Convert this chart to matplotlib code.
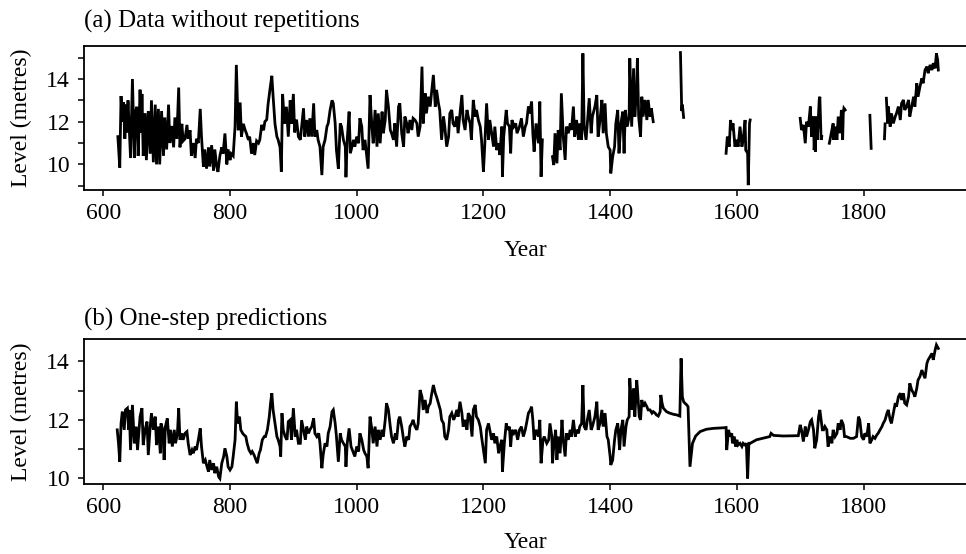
import matplotlib
matplotlib.use("Agg")
from matplotlib import pyplot as plt
from matplotlib.ticker import MultipleLocator

plt.rcParams['font.family'] = ['Liberation Serif', 'DejaVu Serif']

# (year, level in metres), panel (a): pieces with no repeated values
a_622_1293 = [
    (623, 11.3), (626, 9.85), (628, 13.2), (630, 12.0), (632, 12.9), (634, 11.2), (636, 12.8), (637, 11.5),
    (639, 13.0), (641, 11.6), (643, 10.3), (646, 14.0), (649, 10.3), (651, 12.5), (653, 12.7), (655, 10.4),
    (658, 13.5), (660, 11.5), (661, 13.3), (663, 10.4), (666, 12.4), (668, 10.2), (671, 12.5), (674, 10.5),
    (676, 13.0), (679, 10.1), (682, 12.8), (684, 10.0), (687, 12.6), (689, 10.0), (692, 12.5), (695, 10.4),
    (697, 12.2), (700, 10.7), (703, 12.8), (705, 11.0), (708, 11.8), (711, 10.8), (713, 12.2), (716, 11.2),
    (719, 13.6), (721, 10.8), (724, 11.9), (726, 11.1), (729, 11.2), (732, 11.85), (734, 11.2), (737, 11.6),
    (739, 10.4), (742, 11.0), (745, 10.3), (747, 11.2), (750, 11.0), (753, 12.6), (755, 11.3), (758, 9.9),
    (760, 10.7), (763, 9.8), (766, 10.8), (768, 9.9), (771, 10.9), (774, 9.7), (776, 10.7), (779, 9.9),
    (781, 9.65), (784, 10.4), (787, 10.8), (789, 10.5), (792, 11.45), (795, 10.0), (797, 10.7), (800, 10.2),
    (802, 10.5), (805, 10.4), (808, 11.8), (810, 14.66), (813, 11.6), (816, 12.9), (818, 11.3), (821, 11.9),
    (824, 11.6), (826, 11.45), (829, 11.15), (831, 11.3), (834, 10.5), (837, 11.0), (839, 10.44), (842, 11.1),
    (845, 11.0), (847, 11.15), (850, 11.85), (853, 11.6), (855, 12.0), (858, 12.1), (860, 12.8), (863, 13.5),
    (866, 14.15), (868, 13.2), (871, 11.9), (874, 11.3), (876, 11.15), (879, 10.8), (881, 9.66), (883, 13.3),
    (886, 11.9), (889, 12.7), (892, 11.3), (895, 13.0), (897, 11.9), (900, 13.3), (902, 11.5), (905, 12.1),
    (908, 11.3), (911, 11.15), (916, 12.63), (918, 11.3), (921, 12.08), (924, 11.3), (926, 12.16), (929, 11.3),
    (932, 12.86), (934, 11.3), (937, 11.61), (939, 11.15), (942, 10.83), (945, 9.5), (947, 10.83), (950, 11.15),
    (953, 11.77), (955, 11.92), (958, 12.55), (961, 13.0), (963, 12.86), (966, 11.92), (968, 10.67), (971, 9.8),
    (974, 11.92), (976, 11.77), (979, 11.15), (982, 10.83), (983, 9.4), (985, 11.15), (988, 12.47), (990, 10.52),
    (995, 11.15), (997, 10.83), (1000, 11.3), (1003, 10.99), (1005, 12.16), (1008, 11.77), (1010, 10.67),
    (1013, 11.15), (1016, 10.36), (1018, 9.8), (1021, 13.25), (1024, 11.77), (1026, 10.99), (1029, 12.55),
    (1032, 10.83), (1034, 12.39), (1037, 10.99), (1040, 12.47), (1042, 11.46), (1045, 12.08), (1047, 13.49),
    (1050, 12.71), (1053, 11.61), (1055, 11.46), (1058, 11.15), (1060, 11.92), (1063, 10.83), (1066, 12.71),
    (1068, 12.86), (1071, 11.46), (1074, 10.83), (1076, 12.24), (1079, 11.92), (1081, 11.46), (1084, 12.08),
    (1087, 11.61), (1089, 12.16), (1092, 12.08), (1095, 11.92), (1097, 11.3), (1100, 11.77), (1103, 14.58),
    (1105, 11.92), (1108, 13.33), (1110, 12.39), (1113, 13.17), (1116, 12.71), (1118, 13.33), (1121, 14.19),
    (1124, 12.71), (1126, 13.49), (1129, 12.86), (1131, 12.55), (1134, 11.15), (1137, 12.24), (1139, 11.77),
    (1142, 10.83), (1145, 11.3), (1147, 12.39), (1150, 12.55), (1152, 11.92), (1155, 11.77), (1158, 12.24),
    (1160, 11.46), (1163, 12.39), (1166, 13.25), (1168, 12.08), (1171, 11.61), (1174, 12.55), (1176, 12.24),
    (1179, 11.92), (1181, 11.15), (1184, 13.02), (1187, 12.24), (1189, 12.55), (1192, 12.08), (1195, 11.77),
    (1197, 11.15), (1200, 9.66), (1202, 10.83), (1205, 12.86), (1208, 11.15), (1210, 12.08), (1213, 11.46),
    (1216, 10.83), (1218, 11.77), (1221, 10.67), (1224, 10.99), (1226, 10.44), (1229, 11.77), (1230, 9.42),
    (1232, 11.3), (1236, 12.55), (1238, 11.92), (1241, 11.77), (1243, 10.52), (1245, 12.08), (1248, 11.77),
    (1251, 11.92), (1253, 11.46), (1257, 11.77), (1260, 12.16), (1263, 11.3), (1266, 11.77), (1268, 11.92),
    (1271, 12.71), (1273, 12.39), (1276, 12.94), (1278, 11.46), (1280, 10.6), (1283, 11.92), (1287, 10.99),
    (1289, 12.94), (1291, 9.42), (1293, 11.15),
]
a_1309_1468 = [
    (1309, 10.36), (1311, 9.97), (1313, 11.46), (1316, 10.05), (1318, 11.61), (1321, 10.67), (1323, 13.33),
    (1326, 11.3), (1329, 10.21), (1331, 11.77), (1334, 11.46), (1337, 11.92), (1339, 11.61), (1342, 12.71),
    (1344, 11.3), (1347, 12.08), (1350, 11.15), (1352, 11.92), (1355, 11.15), (1357, 15.2), (1359, 11.77),
    (1362, 11.15), (1364, 11.92), (1367, 13.1), (1370, 11.46), (1372, 12.24), (1376, 12.71), (1379, 13.25),
    (1381, 11.3), (1384, 12.08), (1387, 13.02), (1389, 11.46), (1392, 12.86), (1394, 11.46), (1397, 10.83),
    (1400, 10.67), (1401, 9.58), (1404, 10.36), (1407, 10.83), (1409, 11.92), (1412, 12.55), (1414, 10.52),
    (1417, 11.92), (1420, 12.47), (1422, 10.52), (1424, 12.55), (1427, 11.77), (1430, 12.24), (1431, 14.97),
    (1434, 11.77), (1437, 14.5), (1439, 12.24), (1442, 13.64), (1443, 14.97), (1445, 12.24), (1448, 11.3),
    (1450, 13.17), (1452, 12.24), (1455, 13.02), (1458, 12.08), (1460, 13.02), (1463, 12.24), (1465, 12.63),
    (1468, 12.0),
]
a_1511_1516 = [(1511, 15.24), (1513, 12.5), (1514, 12.8), (1516, 12.2)]
a_1583_1621 = [
    (1583, 10.52), (1585, 11.3), (1588, 10.83), (1590, 12.08), (1592, 11.61), (1594, 11.92), (1597, 10.83),
    (1600, 11.15), (1602, 10.83), (1605, 11.77), (1608, 10.83), (1610, 11.15), (1613, 12.08), (1614, 10.67),
    (1617, 10.52), (1618, 9.03), (1620, 11.92), (1621, 12.08),
]
a_1700_1734 = [
    (1700, 12.16), (1702, 11.61), (1705, 11.85), (1708, 10.99), (1710, 12.0), (1713, 11.77), (1716, 12.71),
    (1718, 11.3), (1721, 12.24), (1722, 10.67), (1723, 11.2), (1724, 10.6), (1725, 12.24), (1727, 11.15),
    (1730, 13.02), (1731, 13.17), (1733, 11.15), (1734, 11.3),
]
a_1746_1771 = [
    (1746, 10.99), (1748, 11.3), (1750, 11.61), (1752, 11.92), (1753, 11.15), (1755, 11.77), (1758, 11.15),
    (1760, 12.24), (1763, 11.46), (1765, 12.55), (1767, 11.15), (1768, 12.39), (1769, 12.63), (1771, 12.55),
]
a_1810_1812 = [(1810, 12.3), (1812, 10.75)]
a_1833_1834 = [(1833, 11.2), (1834, 11.9)]
a_1836_1918 = [
    (1836, 13.1), (1838, 11.92), (1839, 12.71), (1841, 12.08), (1842, 11.77), (1844, 12.39), (1847, 11.92),
    (1850, 12.24), (1852, 12.39), (1855, 12.71), (1858, 12.08), (1860, 12.86), (1863, 13.02), (1865, 12.55),
    (1868, 12.71), (1871, 13.02), (1873, 12.24), (1876, 12.71), (1879, 13.17), (1881, 12.71), (1884, 13.8),
    (1886, 13.17), (1889, 13.64), (1892, 14.03), (1894, 13.8), (1897, 14.42), (1900, 14.58), (1902, 14.27),
    (1905, 14.66), (1908, 14.42), (1910, 14.74), (1913, 14.5), (1915, 15.2), (1917, 14.89), (1918, 14.42),
]

# panel (b): one-step predictions, one unbroken series
b_pred = [
    (622, 11.66), (624, 11.2), (626, 10.57), (628, 11.88), (630, 12.28), (633, 11.66), (635, 12.34), (638, 12.4),
    (640, 11.66), (641, 12.34), (643, 10.97), (646, 12.51), (649, 11.2), (652, 11.77), (654, 10.97), (658, 12.11),
    (661, 12.4), (663, 11.14), (666, 11.66), (669, 11.94), (671, 10.8), (674, 11.77), (676, 12.23), (679, 11.66),
    (682, 12.11), (684, 11.14), (687, 11.77), (690, 10.86), (691, 11.88), (694, 11.66), (696, 10.63), (698, 11.77),
    (701, 12.05), (704, 11.2), (706, 11.66), (709, 11.09), (712, 11.66), (714, 11.2), (717, 11.54), (719, 12.4),
    (721, 11.32), (724, 11.54), (726, 11.32), (729, 11.54), (732, 11.6), (734, 11.2), (737, 10.8), (740, 10.97),
    (742, 10.86), (745, 11.09), (747, 10.97), (750, 11.32), (753, 11.71), (755, 11.09), (758, 10.52), (761, 10.63),
    (763, 10.46), (766, 10.23), (768, 10.63), (771, 10.29), (774, 10.52), (776, 10.18), (779, 10.4), (782, 10.06),
    (784, 10.0), (787, 10.52), (790, 10.75), (792, 11.03), (795, 10.75), (797, 10.4), (800, 10.29), (803, 10.4),
    (805, 10.75), (808, 11.32), (810, 12.62), (812, 11.88), (815, 12.11), (817, 11.66), (820, 11.54), (822, 11.49),
    (825, 11.43), (827, 11.2), (830, 10.97), (833, 10.86), (835, 10.92), (838, 10.8), (841, 10.63), (843, 10.52),
    (846, 10.86), (848, 10.97), (851, 11.32), (854, 11.43), (856, 11.43), (859, 11.66), (862, 12.11), (864, 12.57),
    (866, 12.91), (868, 12.34), (871, 11.88), (874, 11.43), (876, 11.32), (879, 11.09), (880, 10.75), (882, 12.23),
    (884, 11.66), (887, 11.43), (890, 11.32), (892, 11.94), (895, 12.0), (897, 11.32), (900, 12.4), (903, 11.43),
    (905, 11.66), (908, 11.2), (911, 11.2), (913, 11.99), (916, 11.66), (919, 11.32), (921, 11.77), (924, 11.54),
    (926, 11.66), (929, 11.77), (932, 12.05), (934, 11.54), (937, 11.43), (940, 11.54), (942, 11.2), (945, 10.35),
    (947, 10.8), (950, 11.2), (953, 11.09), (955, 11.54), (958, 11.77), (961, 12.28), (963, 12.34), (966, 11.88),
    (968, 11.43), (971, 10.57), (974, 11.54), (976, 11.32), (979, 11.2), (982, 11.09), (983, 10.4), (985, 11.2),
    (988, 11.71), (991, 11.09), (995, 10.86), (997, 10.75), (1000, 11.09), (1003, 10.92), (1005, 11.54),
    (1008, 11.32), (1011, 10.97), (1013, 10.86), (1016, 10.75), (1018, 10.35), (1021, 12.11), (1024, 11.66),
    (1026, 11.2), (1029, 11.77), (1032, 11.09), (1034, 11.66), (1037, 11.32), (1040, 11.66), (1042, 11.43),
    (1045, 12.0), (1047, 12.57), (1050, 12.34), (1053, 11.77), (1055, 11.43), (1058, 11.2), (1061, 11.54),
    (1063, 11.32), (1066, 12.0), (1068, 12.11), (1071, 11.77), (1074, 11.32), (1076, 11.09), (1079, 11.43),
    (1082, 11.32), (1084, 11.77), (1087, 11.88), (1089, 12.0), (1092, 11.77), (1095, 11.66), (1097, 11.88),
    (1100, 13.02), (1103, 12.79), (1105, 12.34), (1108, 12.68), (1111, 12.23), (1113, 12.45), (1116, 12.57),
    (1118, 12.85), (1121, 13.19), (1124, 12.91), (1126, 12.79), (1129, 12.57), (1132, 12.34), (1134, 12.0),
    (1137, 11.88), (1139, 11.43), (1142, 11.32), (1145, 11.66), (1147, 12.11), (1150, 12.23), (1153, 12.0),
    (1155, 12.11), (1158, 12.34), (1160, 12.11), (1163, 12.62), (1166, 12.23), (1168, 11.77), (1171, 12.0),
    (1174, 11.66), (1176, 12.23), (1179, 12.11), (1182, 11.43), (1184, 12.34), (1187, 12.51), (1189, 12.11),
    (1192, 12.0), (1195, 11.77), (1197, 11.43), (1200, 10.97), (1203, 10.52), (1205, 11.66), (1208, 11.88),
    (1210, 11.66), (1213, 11.32), (1216, 11.54), (1218, 11.2), (1221, 11.43), (1224, 10.86), (1226, 11.09),
    (1229, 11.32), (1230, 10.23), (1233, 11.2), (1236, 11.88), (1238, 11.66), (1241, 11.77), (1243, 11.09),
    (1245, 11.66), (1248, 11.54), (1251, 11.66), (1254, 11.32), (1257, 11.66), (1260, 11.77), (1263, 11.43),
    (1266, 11.66), (1268, 11.88), (1271, 12.23), (1274, 12.34), (1276, 12.45), (1278, 11.99), (1280, 11.32),
    (1283, 11.66), (1287, 11.43), (1289, 12.0), (1291, 10.52), (1294, 11.32), (1296, 11.43), (1300, 11.2),
    (1303, 11.32), (1305, 11.88), (1308, 11.43), (1309, 10.52), (1311, 11.09), (1314, 11.66), (1316, 10.63),
    (1318, 11.43), (1321, 10.86), (1324, 12.0), (1326, 11.32), (1329, 10.75), (1331, 11.54), (1334, 11.32),
    (1337, 11.66), (1339, 11.43), (1342, 12.0), (1345, 11.43), (1347, 11.66), (1350, 11.54), (1352, 11.77),
    (1355, 11.88), (1357, 13.19), (1359, 11.77), (1362, 11.66), (1364, 12.0), (1367, 12.34), (1370, 11.66),
    (1372, 11.77), (1376, 12.11), (1379, 12.62), (1381, 11.66), (1384, 11.88), (1387, 12.34), (1389, 11.77),
    (1392, 12.23), (1395, 11.43), (1397, 11.32), (1400, 10.75), (1401, 10.46), (1404, 10.63), (1407, 11.32),
    (1409, 11.66), (1412, 11.88), (1415, 10.97), (1417, 11.66), (1420, 12.0), (1422, 11.09), (1425, 11.77),
    (1427, 12.0), (1430, 12.11), (1431, 13.42), (1434, 12.34), (1437, 13.08), (1439, 12.11), (1442, 13.36),
    (1443, 13.08), (1446, 12.11), (1448, 12.0), (1450, 12.68), (1452, 12.45), (1455, 12.57), (1458, 12.45),
    (1460, 12.34), (1463, 12.34), (1466, 12.23), (1468, 12.28), (1471, 12.23), (1473, 12.17), (1476, 12.13),
    (1479, 12.28), (1480, 12.85), (1482, 12.57), (1484, 12.4), (1489, 12.28), (1494, 12.23), (1500, 12.19),
    (1505, 12.17), (1510, 12.13), (1512, 14.1), (1514, 12.79), (1516, 12.62), (1518, 12.57), (1521, 12.51),
    (1523, 12.45), (1526, 10.4), (1527, 10.6), (1530, 11.2), (1535, 11.45), (1542, 11.6), (1552, 11.68),
    (1563, 11.71), (1579, 11.73), (1583, 11.74), (1584, 10.97), (1587, 11.66), (1589, 11.43), (1592, 11.54),
    (1593, 11.2), (1596, 11.43), (1598, 11.09), (1600, 11.32), (1602, 11.14), (1605, 11.2), (1608, 11.09),
    (1610, 11.2), (1613, 11.14), (1615, 11.2), (1617, 10.0), (1619, 11.2), (1621, 11.2), (1631, 11.32),
    (1652, 11.43), (1654, 11.54), (1658, 11.47), (1673, 11.45), (1697, 11.46), (1700, 11.83), (1702, 11.66),
    (1705, 11.26), (1708, 11.77), (1710, 11.43), (1713, 11.66), (1716, 11.94), (1718, 12.0), (1721, 11.66),
    (1723, 11.03), (1726, 11.32), (1729, 12.11), (1731, 12.34), (1733, 12.0), (1735, 11.66), (1737, 11.66),
    (1739, 11.77), (1742, 11.66), (1744, 11.09), (1747, 11.43), (1750, 11.2), (1752, 11.66), (1755, 11.43),
    (1758, 11.54), (1760, 11.88), (1763, 11.66), (1765, 12.0), (1768, 11.83), (1770, 11.43), (1773, 11.43),
    (1779, 11.37), (1784, 11.37), (1789, 11.43), (1792, 12.11), (1794, 12.0), (1797, 11.43), (1800, 11.32),
    (1802, 11.54), (1805, 11.43), (1808, 11.88), (1810, 11.2), (1813, 11.32), (1815, 11.43), (1818, 11.37),
    (1821, 11.49), (1823, 11.54), (1826, 11.66), (1829, 11.77), (1831, 11.88), (1834, 12.0), (1837, 12.23),
    (1839, 12.34), (1842, 12.0), (1844, 11.88), (1847, 12.23), (1850, 12.57), (1852, 12.45), (1855, 12.79),
    (1858, 12.91), (1860, 12.68), (1863, 12.91), (1865, 12.57), (1868, 12.51), (1871, 12.79), (1873, 13.25),
    (1876, 13.02), (1879, 12.91), (1881, 12.79), (1884, 13.08), (1886, 13.36), (1889, 13.48), (1892, 13.7),
    (1894, 13.59), (1897, 13.42), (1900, 13.93), (1902, 14.05), (1905, 14.16), (1908, 14.27), (1910, 14.05),
    (1913, 14.39), (1915, 14.56), (1918, 14.44),
]

segments_a = [a_622_1293, a_1309_1468, a_1511_1516, a_1583_1621, a_1700_1734,
              a_1746_1771, a_1810_1812, a_1833_1834, a_1836_1918]
year_ticks = [600, 800, 1000, 1200, 1400, 1600, 1800]

FS = 17

fig = plt.figure(figsize=(9.66, 5.54), dpi=100)
ax_a = fig.add_axes([0.087, 0.657, 0.913, 0.2605])
ax_b = fig.add_axes([0.087, 0.1258, 0.913, 0.2622])


def style_axes(ax, ylim, title, title_pad, label_y):
    ax.set_xlim(569.6, 1961.7)
    ax.set_ylim(*ylim)
    ax.spines['right'].set_visible(False)
    for s in ['left', 'top', 'bottom']:
        ax.spines[s].set_linewidth(1.3)
    ax.set_xticks(year_ticks)
    ax.yaxis.set_major_locator(MultipleLocator(2))
    ax.yaxis.set_minor_locator(MultipleLocator(1))
    ax.tick_params(axis='both', which='both', direction='out', length=4, width=1.1, labelsize=FS)
    ax.tick_params(axis='x', pad=5)
    ax.tick_params(axis='y', which='both', pad=6)
    ax.set_title(title, loc='left', fontsize=18, pad=title_pad)
    ax.set_xlabel('Year', fontsize=FS)
    ax.xaxis.set_label_coords(0.5, label_y)
    ax.set_ylabel('Level (metres)', fontsize=FS)
    ax.yaxis.set_label_coords(-0.059, 0.5)


for seg in segments_a:
    yrs, lev = zip(*seg)
    ax_a.plot(yrs, lev, color='black', lw=2.0, solid_joinstyle='miter')
style_axes(ax_a, (8.8, 15.56), '(a) Data without repetitions', 13, -0.345)

yrs, lev = zip(*b_pred)
ax_b.plot(yrs, lev, color='black', lw=2.0, solid_joinstyle='miter')
style_axes(ax_b, (9.8, 14.76), '(b) One-step predictions', 10, -0.33)

fig.savefig('out.png', dpi=100)
